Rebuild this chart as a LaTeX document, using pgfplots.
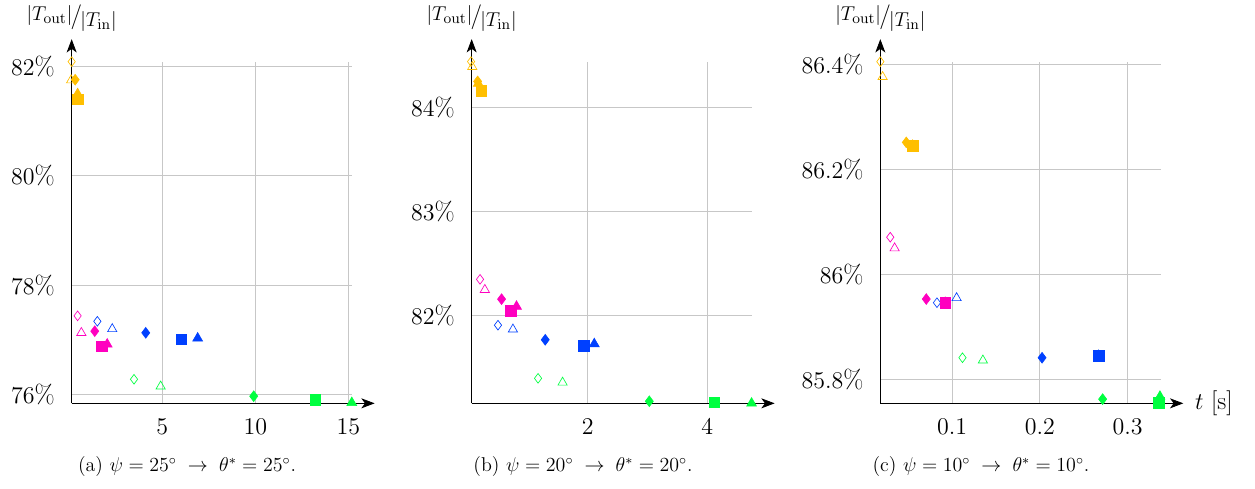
\documentclass[border=0pt]{standalone}
\usepackage{pgfplots}
\pgfplotsset{compat=1.18}
\usetikzlibrary{arrows.meta}
\definecolor{cO}{RGB}{255,191,0}
\definecolor{cM}{RGB}{255,0,191}
\definecolor{cB}{RGB}{0,64,255}
\definecolor{cG}{RGB}{0,255,64}
\newcommand{\tickfont}{\fontsize{15.6}{18}\selectfont}
\newcommand{\ratiolabel}{\fontsize{13}{15}\selectfont\raisebox{0.35ex}{$|T_{\mathrm{out}}|$}\kern-0.08em{\fontsize{15}{15}\selectfont/}\kern-0.08em\raisebox{-0.35ex}{$|T_{\mathrm{in}}|$}}
\pgfplotsset{
  panel/.style={
    scale only axis, width=168.3pt, height=205pt,
    anchor=south west, clip=false,
    axis lines=left,
    axis line style={-{Stealth[length=8pt,width=6pt,inset=2.2pt]}, shorten >=-13.5pt, line width=0.5pt},
    grid=major, grid style={black!22, line width=0.5pt},
    tick style={draw=none},
    tick label style={font=\tickfont},
    yticklabel={\pgfmathprintnumber{\tick}\%},
    yticklabel style={xshift=-4.5pt},
    xticklabel style={yshift=-4pt},
  },
  od/.style={only marks, scatter, scatter src=explicit symbolic, mark size=2.9pt,
    scatter/classes={o={mark=diamond,draw=cO},m={mark=diamond,draw=cM},b={mark=diamond,draw=cB},g={mark=diamond,draw=cG}}},
  ot/.style={only marks, scatter, scatter src=explicit symbolic, mark size=3.2pt,
    scatter/classes={o={mark=triangle,draw=cO},m={mark=triangle,draw=cM},b={mark=triangle,draw=cB},g={mark=triangle,draw=cG}}},
  fd/.style={only marks, scatter, scatter src=explicit symbolic, mark size=3.2pt,
    scatter/classes={o={mark=diamond*,draw=cO,fill=cO},m={mark=diamond*,draw=cM,fill=cM},b={mark=diamond*,draw=cB,fill=cB},g={mark=diamond*,draw=cG,fill=cG}}},
  fs/.style={only marks, scatter, scatter src=explicit symbolic, mark size=3.2pt,
    scatter/classes={o={mark=square*,draw=cO,fill=cO},m={mark=square*,draw=cM,fill=cM},b={mark=square*,draw=cB,fill=cB},g={mark=square*,draw=cG,fill=cG}}},
  ft/.style={only marks, scatter, scatter src=explicit symbolic, mark size=3.4pt,
    scatter/classes={o={mark=triangle*,draw=cO,fill=cO},m={mark=triangle*,draw=cM,fill=cM},b={mark=triangle*,draw=cB,fill=cB},g={mark=triangle*,draw=cG,fill=cG}}},
}
\begin{document}
\begin{tikzpicture}
\path[use as bounding box] (0,0) rectangle (753pt,-293.4pt);

% ---------- (a) ----------
\begin{axis}[panel, at={(43.0pt,-242.0pt)},
  xmin=0.13, xmax=15.2, ymin=75.84, ymax=82.09,
  xtick={5,10,15}, ytick={76,78,80,82}]
\addplot[od] table[meta=c,row sep=\\] {x y c\\ 0.13 82.09 o\\ 0.45 77.44 m\\ 1.51 77.34 b\\ 3.48 76.28 g\\};
\addplot[ot] table[meta=c,row sep=\\] {x y c\\ 0.10 81.75 o\\ 0.65 77.13 m\\ 2.31 77.20 b\\ 4.91 76.15 g\\};
\addplot[fd] table[meta=c,row sep=\\] {x y c\\ 0.32 81.76 o\\ 1.37 77.16 m\\ 4.11 77.13 b\\ 9.91 75.97 g\\};
\addplot[fs] table[meta=c,row sep=\\] {x y c\\ 0.45 81.40 o\\ 1.74 76.88 m\\ 6.02 77.01 b\\ 13.23 75.90 g\\};
\addplot[ft] table[meta=c,row sep=\\] {x y c\\ 0.45 81.50 o\\ 2.04 76.92 m\\ 6.90 77.03 b\\ 15.18 75.85 g\\};
\node[anchor=base, yshift=23pt] at (rel axis cs:0,1) {\ratiolabel};
\end{axis}

% ---------- (b) ----------
\begin{axis}[panel, at={(283.0pt,-242.0pt)},
  xmin=0.06, xmax=4.75, ymin=81.16, ymax=84.44,
  xtick={2,4}, ytick={82,83,84}]
\addplot[od] table[meta=c,row sep=\\] {x y c\\ 0.05 84.44 o\\ 0.20 82.35 m\\ 0.50 81.91 b\\ 1.17 81.40 g\\};
\addplot[ot] table[meta=c,row sep=\\] {x y c\\ 0.07 84.39 o\\ 0.28 82.25 m\\ 0.75 81.87 b\\ 1.58 81.36 g\\};
\addplot[fd] table[meta=c,row sep=\\] {x y c\\ 0.16 84.25 o\\ 0.56 82.16 m\\ 1.29 81.77 b\\ 3.03 81.18 g\\};
\addplot[fs] table[meta=c,row sep=\\] {x y c\\ 0.22 84.16 o\\ 0.71 82.05 m\\ 1.93 81.71 b\\ 4.12 81.17 g\\};
\addplot[ft] table[meta=c,row sep=\\] {x y c\\ 0.17 84.23 o\\ 0.81 82.09 m\\ 2.11 81.73 b\\ 4.74 81.16 g\\};
\node[anchor=base, yshift=23pt] at (rel axis cs:0,1) {\ratiolabel};
\end{axis}

% ---------- (c) ----------
\begin{axis}[panel, at={(528.2pt,-242.0pt)},
  xmin=0.018, xmax=0.338, ymin=85.754, ymax=86.406,
  xtick={0.1,0.2,0.3}, ytick={85.8,86,86.2,86.4}]
\addplot[od] table[meta=c,row sep=\\] {x y c\\ 0.018 86.406 o\\ 0.0293 86.071 m\\ 0.0826 85.946 b\\ 0.1117 85.841 g\\};
\addplot[ot] table[meta=c,row sep=\\] {x y c\\ 0.0206 86.377 o\\ 0.0343 86.050 m\\ 0.105 85.955 b\\ 0.135 85.836 g\\};
\addplot[fd] table[meta=c,row sep=\\] {x y c\\ 0.0476 86.252 o\\ 0.0704 85.953 m\\ 0.2025 85.841 b\\ 0.2716 85.762 g\\};
\addplot[fs] table[meta=c,row sep=\\] {x y c\\ 0.0548 86.246 o\\ 0.092 85.946 m\\ 0.267 85.845 b\\ 0.336 85.755 g\\};
\addplot[ft] table[meta=c,row sep=\\] {x y c\\ 0.0548 86.246 o\\ 0.092 85.946 m\\ 0.267 85.845 b\\ 0.337 85.767 g\\};
\node[anchor=base, yshift=23pt] at (rel axis cs:0,1) {\ratiolabel};
\node[anchor=west, font=\fontsize{15}{18}\selectfont, xshift=17pt] at (rel axis cs:1,0) {$t$ [s]};
\end{axis}

% ---------- captions ----------
\node[font=\fontsize{12}{14}\selectfont] at (112.2pt,-280.2pt) {(a) $\psi = 25^{\circ} \;\rightarrow\; \theta^{*} = 25^{\circ}$.};
\node[font=\fontsize{12}{14}\selectfont] at (349.8pt,-280.2pt) {(b) $\psi = 20^{\circ} \;\rightarrow\; \theta^{*} = 20^{\circ}$.};
\node[font=\fontsize{12}{14}\selectfont] at (588.6pt,-280.2pt) {(c) $\psi = 10^{\circ} \;\rightarrow\; \theta^{*} = 10^{\circ}$.};
\end{tikzpicture}
\end{document}
